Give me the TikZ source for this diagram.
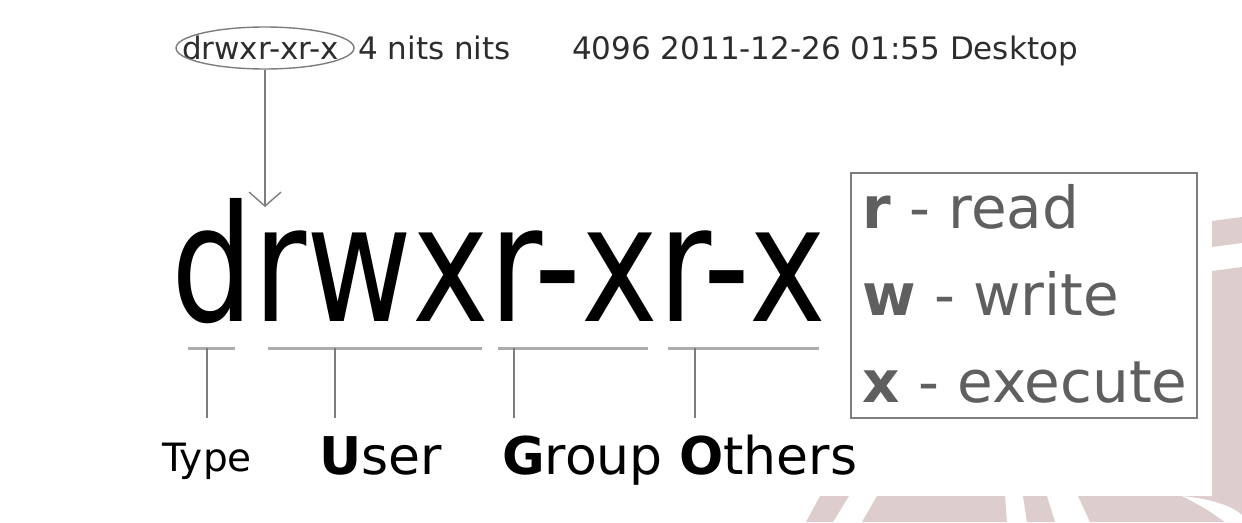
\documentclass[tikz,border=0pt]{standalone}
\usepackage{fontspec}
\setmainfont{DejaVu Sans}
\usetikzlibrary{arrows.meta,shapes.geometric}
\definecolor{rosa}{RGB}{221,205,204}
\definecolor{grigio}{RGB}{95,95,95}
\definecolor{filo}{RGB}{125,125,125}
\definecolor{scuro}{RGB}{45,45,45}
\begin{document}
\begin{tikzpicture}[
		x=1pt, y=-1pt, filo/.style={draw=filo, line width=1.4pt},
		barra/.style={draw=gray!65, line width=3pt},
		riga/.style={anchor=base west, inner sep=0pt, text=scuro, font=\fontsize{31}{36}\selectfont},
		etichetta/.style={anchor=base west, inner sep=0pt, font=\fontsize{52}{60}\selectfont},
		legenda/.style={anchor=base west, inner sep=0pt, text=grigio, font=\fontsize{58}{70}\selectfont}]
	\useasboundingbox (0,0) rectangle (1242,522);
	\fill[white] (0,0) rectangle (1242,522);
	
	%% sfondo rosa, quasi tutto coperto
	\fill[rosa] (1212,221) -- (1242,217) -- (1242,243) -- (1212,247) -- cycle;
	\fill[rosa] (1078,496) -- (1212,496) -- (1212,271) -- (1242,267) -- (1242,522) -- (1090,522) -- cycle;
	\fill[white] (1182,496) .. controls (1212,499) and (1232,506) .. (1242,515) -- (1242,522) -- (1225,522) .. controls (1205,508) .. (1182,496) -- cycle;
	\fill[rosa] (820,496) -- (849,496) -- (833,522) -- (806,522) -- cycle;
	\fill[rosa] (877,496) -- (1005,496) -- (1007,522) -- (862,522) -- cycle;
	\fill[rosa] (1023,496) -- (1047,496) -- (1055,522) -- (1027,522) -- cycle;
	
	%% riga di ls -l
	\node[riga] (perm) at (182,59) {drwxr-xr-x};
	\node[riga] (utenti) at (358,59) {4 nits nits};
	\node[riga] (data) at (572,59) {4096 2011-12-26 01:55 Desktop};
	\node[filo, ellipse, minimum width=178pt, minimum height=42pt, inner sep=0pt] (ovale) at (265,48) {};
	
	%% permessi in grande
	\node[anchor=base west, inner sep=0pt] (grande) at (171,321)
		{\scalebox{0.80}[1]{\fontsize{162}{162}\selectfont drwxr-xr-x}};
	\coordinate (punta) at (265,207);
	\draw[filo, -{Straight Barb[length=14pt, width=32pt]}] (ovale) -- (punta);
	
	%% parentesi sotto i gruppi
	\foreach \a/\b/\t [count=\i] in {188/235/207, 268/482/335, 498/648/514, 668/819/695} {
		\coordinate (s\i) at (\a,348);
		\coordinate (e\i) at (\b,348);
		\coordinate (t\i) at (\t,348);
		\draw[barra] (s\i) -- (e\i);
		\draw[filo] (t\i) -- ++(0,70);
	}
	\node[etichetta, font=\fontsize{39}{44}\selectfont] (tipo) at (162,471) {Type};
	\node[etichetta] (user) at (319,474) {\textbf{U}ser};
	\node[etichetta] (group) at (502,474) {\textbf{G}roup};
	\node[etichetta] (others) at (679,474) {\textbf{O}thers};
	
	%% legenda
	\node[filo, minimum width=346pt, minimum height=245pt, inner sep=0pt] (box) at (1024,295.5) {};
	\node[legenda] (lr) at (862,228) {\textbf{r} - read};
	\node[legenda] (lw) at (862,315) {\textbf{w} - write};
	\node[legenda] (lx) at (862,402) {\textbf{x} - execute};
\end{tikzpicture}
\end{document}
